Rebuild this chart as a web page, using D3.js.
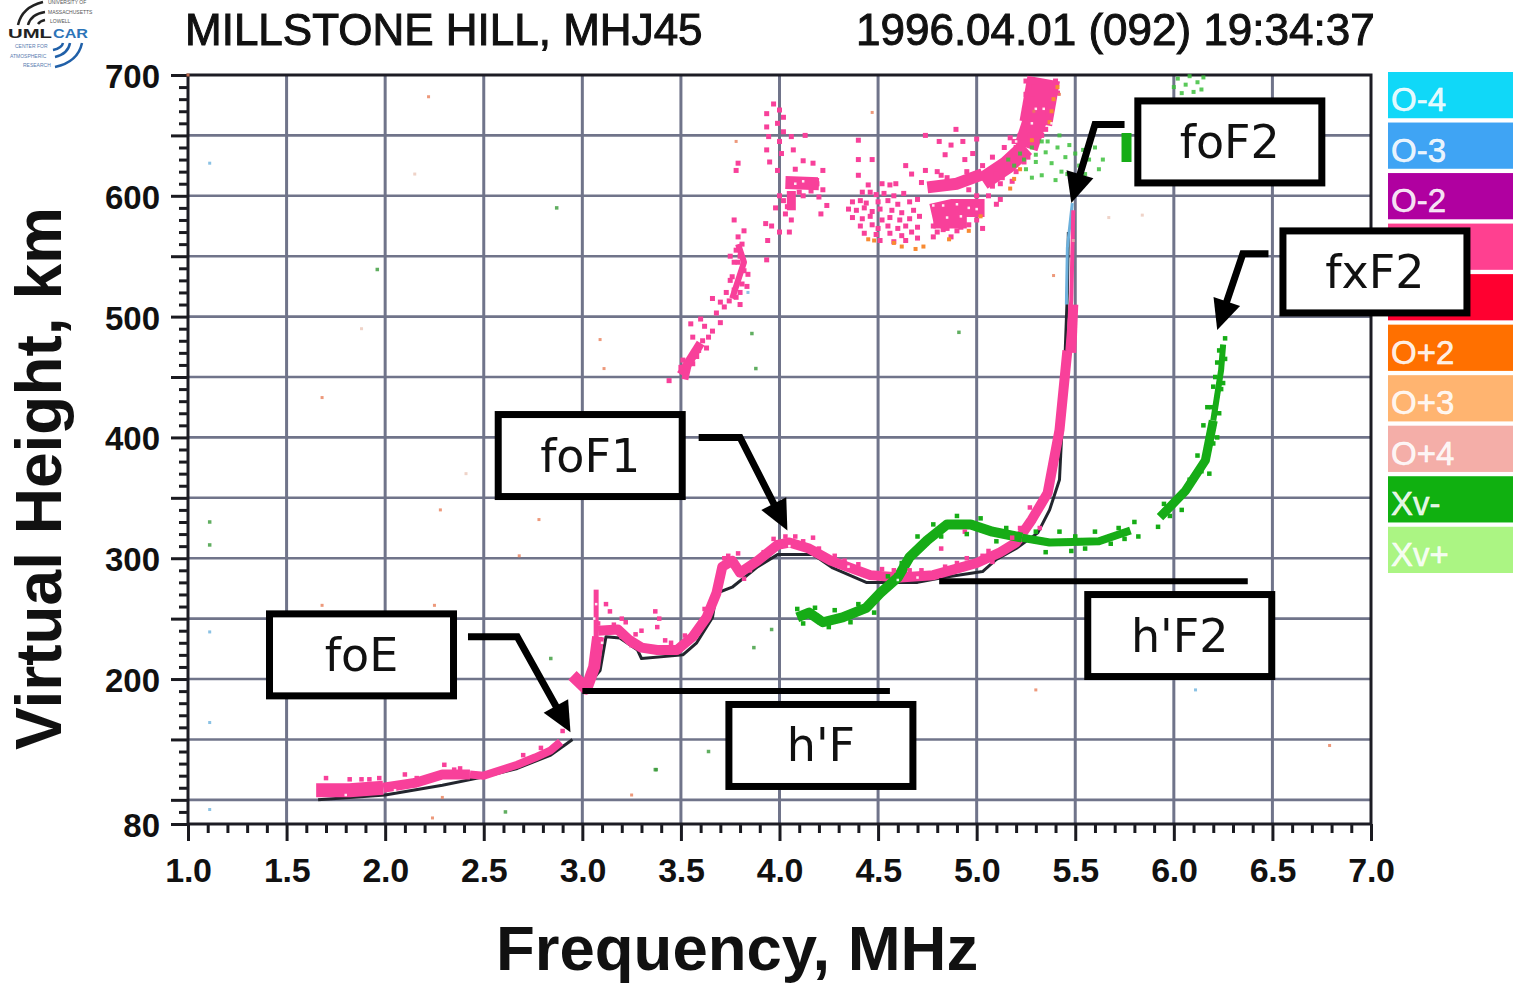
<!DOCTYPE html>
<html><head><meta charset="utf-8">
<script src="https://cdnjs.cloudflare.com/ajax/libs/d3/7.8.5/d3.min.js"></script>
<style>html,body{margin:0;padding:0;background:#fff}svg{display:block}text{font-family:"Liberation Sans",Arial,sans-serif}</style>
</head><body><svg id="c" width="1516" height="984"></svg>
<script>
const titleLeft="MILLSTONE HILL, MHJ45";
const titleRight="1996.04.01 (092) 19:34:37";
const xLabel="Frequency, MHz", yLabel="Virtual Height, km";
const xMajor=[1,1.5,2,2.5,3,3.5,4,4.5,5,5.5,6,6.5,7];
const xMinor=[1.1,1.2,1.3,1.4,1.6,1.7,1.8,1.9,2.1,2.2,2.3,2.4,2.6,2.7,2.8,2.9,3.1,3.2,3.3,3.4,3.6,3.7,3.8,3.9,4.1,4.2,4.3,4.4,4.6,4.7,4.8,4.9,5.1,5.2,5.3,5.4,5.6,5.7,5.8,5.9,6.1,6.2,6.3,6.4,6.6,6.7,6.8,6.9];
const yMajor=[80,100,150,200,250,300,350,400,450,500,550,600,650,700];
const yLabelled=[80,200,300,400,500,600,700];
const yMinor=[90,110,120,130,140,160,170,180,190,210,220,230,240,260,270,280,290,310,320,330,340,360,370,380,390,410,420,430,440,460,470,480,490,510,520,530,540,560,570,580,590,610,620,630,640,660,670,680,690];
const legendNames=["O-4","O-3","O-2","O-1","O+1","O+2","O+3","O+4","Xv-","Xv+"];
const legendHidden=["O-1","O+1"];
const legendColors=["#10d8f8","#3fa4f4","#b000a0","#ff4090","#ff0030","#ff7000","#ffb470","#f4aea8","#10b010","#abf583"];

const traceE1=[[1.65,108],[1.82,108],[1.99,110]];
const traceE2=[[1.99,110],[2.15,114],[2.29,121],[2.43,121]];
const traceE3=[[2.43,121],[2.5,120],[2.67,129],[2.76,135],[2.84,141],[2.89,148]];
const traceV=[[2.95,203],[3.02,192],[3.06,210],[3.08,235]];
const traceF=[[3.08,240],[3.18,241],[3.24,232],[3.3,226],[3.38,224],[3.48,224],[3.56,235],[3.63,251],[3.68,271],[3.71,293],[3.76,298],[3.8,288],[3.89,298],[3.99,311],[4.05,313],[4.15,308],[4.26,298],[4.36,292],[4.46,286],[4.61,284],[4.78,286],[5,296],[5.12,305],[5.2,313],[5.28,332],[5.36,354],[5.42,406],[5.46,472]];
const traceCusp=[[5.46,472],[5.48,514],[5.49,588]];
const cuspWide=[[5.48,470],[5.49,510]];
const cuspBlue=[[5.455,510],[5.46,557],[5.485,594]];
const spike=[[3.07,220],[3.07,274]];
const blackE=[[1.66,100],[2,104],[2.29,112],[2.5,119],[2.67,126],[2.84,137],[2.95,150]];
const blackF=[[3,191],[3.07,203],[3.09,207],[3.12,235],[3.19,234],[3.28,224],[3.3,217],[3.51,220],[3.58,230],[3.66,251],[3.68,271],[3.76,276],[3.89,293],[3.99,303],[4.17,303],[4.27,292],[4.44,280],[4.7,280],[4.83,284],[5.03,289],[5.1,299],[5.2,308],[5.31,321],[5.37,340],[5.42,365],[5.44,431],[5.46,520],[5.465,570]];
const traceX1=[[4.09,251],[4.15,255],[4.22,247],[4.32,251],[4.44,259],[4.51,271],[4.6,284],[4.66,301],[4.75,315],[4.85,328],[4.97,328],[5.08,322],[5.23,317]];
const traceX2=[[5.23,317],[5.37,313],[5.62,314],[5.78,323]];
const traceX3=[[5.93,334],[6.06,356],[6.16,381],[6.2,414]];
const traceX4=[[6.2,414],[6.24,456],[6.25,477]];
const highCoreThin=[[3.5,452],[3.6,478]];
const highCoreLow=[[3.52,448],[3.54,462]];
const highCoreOblique=[[3.76,515],[3.82,545],[3.79,560]];
const highCoreBlob=[[4.03,611],[4.2,610]];
const highCoreStem=[[4.06,588],[4.06,604]];
const highCoreBowl=[[4.77,586],[4.88,590],[5.04,590]];
const highCoreBowlLow=[[4.78,578],[4.95,578]];
const highCoreBand=[[4.75,607],[4.9,610],[5.03,618]];
const highCoreRise=[[5.03,612],[5.15,625],[5.25,640]];
const highCoreUp=[[5.25,640],[5.3,665]];
const highCoreTop=[[5.3,660],[5.34,697]];
const highPink=[[3.44,447],[3.5,458],[3.51,464],[3.52,453],[3.56,461],[3.58,467],[3.61,480],[3.64,483],[3.56,483],[3.55,494],[3.6,498],[3.66,515],[3.68,503],[3.745,513],[3.77,522],[3.81,527],[3.835,525],[3.76,533],[3.82,538],[3.78,555],[3.81,560],[3.82,571],[3.77,580],[3.93,577],[3.935,547],[3.78,621],[3.79,627],[3.72,508],[3.7,495],[3.75,530],[3.79,545],[3.79,566],[3.8,510],[3.78,516],[3.62,492],[3.59,472],[3.63,474],[3.66,488],[3.7,512],[3.73,520],[3.8,520],[3.84,535],[3.77,545],[3.75,550],[3.8,550],
[3.935,668],[4,671],[4.02,665],[3.935,657],[3.99,660],[3.945,649],[3.935,638],[4.01,635],[3.99,621],[3.97,676],[3.95,628],[4,645],[4.02,653],[4,600],[3.98,590],[4.02,596],[4.04,591],[4.03,585],[4.06,580],[3.96,575],[3.94,563],[4,570],[4.05,570],[4.19,610],[4.2,599],[4.22,621],[4.17,627],[4.12,629],[4.07,638],[4.06,649],[4.13,650],[4.12,600],[4.16,604],[4.08,622],[4.1,603],[4.24,592],[4.22,605],[4.21,585],
[4.4,646],[4.4,630],[4.47,630],[4.4,617],[4.45,609],[4.52,610],[4.56,609],[4.59,610],[4.42,603],[4.46,603],[4.49,601],[4.53,602],[4.58,600],[4.63,602],[4.37,595],[4.41,596],[4.44,594],[4.5,595],[4.55,596],[4.6,593],[4.66,595],[4.7,597],[4.35,589],[4.39,588],[4.43,590],[4.47,587],[4.51,589],[4.57,588],[4.62,586],[4.68,588],[4.37,582],[4.42,581],[4.46,583],[4.52,580],[4.56,582],[4.61,580],[4.66,581],[4.71,583],[4.41,575],[4.47,576],[4.5,573],[4.55,575],[4.6,573],[4.64,575],[4.7,574],[4.43,569],[4.49,568],[4.56,569],[4.62,567],[4.67,570],[4.51,563],[4.58,562],[4.64,563],[4.7,565],
[4.74,650],[4.895,655],[4.81,645],[4.87,642],[4.93,645],[5,647],[4.84,634],[4.94,630],[4.74,621],[4.67,618],[4.64,625],[4.98,635],[5.03,625],[5.08,632],[4.8,620],[4.82,617],[4.95,620],[4.72,611],[4.78,575],[4.83,572],[4.9,571],[4.87,566],[5.03,573],[5.1,593],[5.06,600],[5.12,597],[5.18,612],[5.14,640],[5.17,648],[5.22,650],[4.96,576],[5,580],[4.78,566],[4.8,570],[4.85,573],[4.92,574],[5,600],[5.08,608],[5.13,615],[4.96,605],[4.85,615],
[5.2,640],[5.22,630],[5.26,632],[5.3,645],[5.33,650],[5.35,655],[5.24,655],[5.27,662],[5.36,668],[5.38,675],[5.38,688],[5.28,680],[5.29,690],[5.25,695],[5.4,695],[5.1,618],[5.12,610],[5.2,620],[5.24,628],[5.16,632],[5.19,645],[5.23,648],[5.27,650],[5.26,672],[5.25,684],[5.41,685],[5.22,637]];
const highOrange=[[5.41,690],[5.39,680],[5.38,670],[5.37,661],[5.28,646],[5.22,622],[5.19,614],[5.17,606],[4.45,564],[4.48,563],[4.58,561],[4.62,558],[4.69,556],[4.73,558],[4.86,564],[4.96,571],[5.02,583]];
const highGreen=[[5.16,630],[5.19,625],[5.22,635],[5.25,622],[5.28,640],[5.3,628],[5.33,617],[5.35,636],[5.38,627],[5.36,645],[5.41,640],[5.43,620],[5.45,632],[5.47,642],[5.5,635],[5.52,625],[5.54,638],[5.57,630],[5.6,640],[5.62,622],[5.64,630],[5.28,615],[5.4,613],[5.42,650],[5.46,618],[5.55,618],[5.24,630],[6,690],[6.02,697],[6.04,685],[6.06,692],[6.08,699],[6.1,686],[6.12,694],[6.14,688],[6.15,698],[6.03,678],[6.09,678],[5.3,634],[5.33,645]];
const highGreenBlock=[[5.76,628],[5.76,652]];
const strayBlue=[[1.11,627],[1.11,239],[1.11,164],[1.11,92],[3.84,520],[6.11,191]];
const strayGreen=[[2.87,590],[1.96,539],[1.11,330],[1.11,311],[3.86,486],[3.88,457],[3.64,140],[3.37,125],[3.375,125],[2.61,90],[3.96,241],[3.87,226],[2.84,217],[4.91,487]];
const strayRed=[[2.22,682],[1.68,433],[2.28,340],[2.78,332],[2.68,302],[1.68,261],[2.25,261],[5.3,191],[6.79,145],[3.25,104],[2.29,102],[2.24,85],[3.09,481],[3.11,457],[5.42,684],[5.39,534],[5.29,670],[4.47,669],[3.78,645],[1,700]];
const strayPale=[[2.15,618],[1.88,490],[2.41,370],[5.67,582],[5.49,563],[5.84,584]];
const fragments=[[3.12,262],[3.14,256],[3.2,250],[3.22,247],[3.16,245],[3.3,240],[3.37,256],[3.39,250],[3.38,243],[3.42,232],[3.52,236],[3.79,304],[2.9,157],[2.1,121],[2.16,118],[1.7,118],[1.82,117],[1.88,117],[1.92,117],[1.97,118],[2.3,129],[2.35,125],[2.38,126],[2.7,137],[2.79,143],[4.17,317],[4.82,308],[4.94,322],[5.06,306],[5.15,307],[5.32,325],[3.05,205],[3.08,246],[3.09,233],
[3.2,235],[3.25,228],[3.27,237],[3.33,226],[3.45,230],[3.62,258],[3.66,262],[3.7,285],[3.72,300],[3.74,302],[3.78,295],[3.82,283],[3.85,290],[3.92,305],[3.97,316],[4.03,318],[4.08,318],[4.12,314],[4.2,308],[4.28,302],[4.33,298],[4.4,295],[4.52,291],[4.58,290],[4.66,290],[4.72,290],[4.84,293],[4.9,296],[4.95,300],[5.03,302],[5.08,297],[5.18,317],[5.22,325],[5.27,342],[5.33,345],[5.38,365],[5.41,390],[5.44,420],[5.45,445]];
const greenFragments=[[4.09,258],[4.12,246],[4.18,259],[4.25,243],[4.28,257],[4.36,247],[4.4,262],[4.48,255],[4.55,285],[4.62,296],[4.7,318],[4.78,328],[4.82,318],[4.9,335],[4.95,320],[5.02,333],[5.1,314],[5.15,325],[5.3,322],[5.35,305],[5.42,322],[5.48,306],[5.5,318],[5.55,308],[5.6,322],[5.68,312],[5.72,325],[5.75,316],[5.8,330],[5.82,318],
[6.14,372],[6.18,370],[6.12,385],[6.17,395],[6.22,400],[6.15,410],[6.2,395],[6.19,425],[6.23,420],[6.17,425],[6.22,435],[6.2,442],[6.24,440],[6.21,450],[6.25,445],[6.22,462],[6.26,465],[6.23,472],[6.26,482],[6.1,365],[6.02,350],[6.04,340],[5.98,335],[5.92,326],[5.95,345],[6.08,365]];
const whiteFlecks=[[4.78,592],[4.83,592],[4.9,593],[4.96,590],[5,589],[4.85,582],[4.92,583],[5.2,645],[5.3,672],[5.34,672],[5.28,660],[5.38,660],[4.08,610],[4.12,612],[3.1,230],[3.06,250],[3.07,262],[3.75,290],[4.05,310],[4.35,293],[4.6,282],[4.7,284],[1.8,104],[2.05,108]];
const annotations=[
 {label:"foF2",f:6.284,h:644.6,line:[[5.75,659],[5.6,659],[5.48,594]]},
 {label:"fxF2",f:7.02,h:537,line:[[6.48,552],[6.35,552],[6.22,489]]},
 {label:"foF1",f:3.04,h:385,line:[[3.59,400],[3.8,400],[4.04,323]]},
 {label:"foE",f:1.88,h:220,line:[[2.42,235],[2.67,235],[2.94,156]]},
 {label:"h'F",f:4.21,h:145,line:null},
 {label:"h'F2",f:6.03,h:236,line:null}];
const heightLines=[[[3,190],[4.56,190]],[[4.81,281],[6.375,281]]];

const svg=d3.select("#c");
const x=d3.scaleLinear().domain([1,7]).range([188,1371]);
const y=d3.scaleLinear().domain([80,700]).range([824,75]);
const line=d3.line().x(d=>x(d[0])).y(d=>y(d[1]));
const gridColor="#70748a";

const grid=svg.append("g");
grid.selectAll("line.v").data(xMajor.slice(1,-1)).join("line").attr("x1",x).attr("x2",x).attr("y1",y(700)).attr("y2",y(80)).attr("stroke",gridColor).attr("stroke-width",3);
grid.selectAll("line.h").data(yMajor.slice(1,-1)).join("line").attr("x1",x(1)).attr("x2",x(7)).attr("y1",y).attr("y2",y).attr("stroke",gridColor).attr("stroke-width",2.6);

function style(g,w){g.select(".domain").remove();g.selectAll("line").attr("stroke","#1a1a20").attr("stroke-width",w);}
svg.append("g").attr("transform",`translate(0,${y(80)})`).call(d3.axisBottom(x).tickValues(xMinor).tickSize(9).tickFormat("")).call(g=>style(g,3));
svg.append("g").attr("transform",`translate(${x(1)},0)`).call(d3.axisLeft(y).tickValues(yMinor).tickSize(9).tickFormat("")).call(g=>style(g,3));
const axB=svg.append("g").attr("transform",`translate(0,${y(80)})`).call(d3.axisBottom(x).tickValues(xMajor).tickSize(17).tickPadding(17).tickFormat(d3.format(".1f"))).call(g=>style(g,3));
axB.selectAll("text").attr("font-size",34).attr("font-weight",700).attr("fill","#111").attr("font-family",'"Liberation Sans"').attr("letter-spacing",-0.3);
const axL=svg.append("g").attr("transform",`translate(${x(1)},0)`).call(d3.axisLeft(y).tickValues(yMajor).tickSize(17).tickPadding(11).tickFormat(d=>yLabelled.includes(d)?d:"")).call(g=>style(g,3));
axL.selectAll("text").attr("font-size",33).attr("font-weight",700).attr("fill","#111").attr("font-family",'"Liberation Sans"').attr("transform","translate(0,2)");
svg.append("rect").attr("x",x(1)).attr("y",y(700)).attr("width",x(7)-x(1)).attr("height",y(80)-y(700)).attr("fill","none").attr("stroke","#1c1c24").attr("stroke-width",3);

const plot=svg.append("g").attr("filter","url(#soft)");
const defs=svg.append("defs");
defs.append("filter").attr("id","soft").attr("x","-5%").attr("y","-5%").attr("width","110%").attr("height","110%").append("feGaussianBlur").attr("stdDeviation",0.55);
const pink="#f8409a", green="#14ac14";
function path(d,c,w){plot.append("path").datum(d).attr("d",line).attr("fill","none").attr("stroke",c).attr("stroke-width",w).attr("stroke-linejoin","round");}
function dots(d,c,s,o){plot.append("g").selectAll("rect").data(d).join("rect").attr("x",p=>x(p[0])-s/2).attr("y",p=>y(p[1])-s/2).attr("width",s).attr("height",s).attr("fill",c).attr("opacity",o||1);}
path(blackE,"#23262e",3);path(blackF,"#23262e",3);path(cuspBlue,"#6cb0dc",3);
path(traceE1,pink,14);path(traceE2,pink,10);path(traceE3,pink,8);path(traceV,pink,12);path(traceF,pink,10);path(traceCusp,pink,4);path(cuspWide,pink,10);path(spike,pink,5);
path(traceX1,green,10);path(traceX2,green,8);path(traceX3,green,9);path(traceX4,green,6);
path(highCoreThin,pink,9);path(highCoreLow,pink,7);path(highCoreOblique,pink,6);path(highCoreBlob,pink,13);path(highCoreStem,pink,9);
path(highCoreBowl,pink,18);path(highCoreBowlLow,pink,12);path(highCoreBand,pink,12);path(highCoreRise,pink,18);path(highCoreUp,pink,24);path(highCoreTop,pink,33);
path(highGreenBlock,green,10);
dots(highPink,pink,5);dots(highOrange,"#f88a30",4);dots(highGreen,"#3cc03c",4,.85);dots(fragments,pink,4.5);dots(greenFragments,green,4.5);dots(whiteFlecks,"#fff",2.5,.9);
dots(strayBlue,"#5aa8d8",3,.7);dots(strayGreen,"#3a9a3a",3.5,.8);dots(strayRed,"#e8805a",3,.8);dots(strayPale,"#e8c0b0",3,.7);

const band=d3.scaleBand().domain(legendNames).range([72,573]).paddingInner(0.085).paddingOuter(0);
const lg=svg.append("g").selectAll("g").data(legendNames).join("g").attr("transform",d=>`translate(1388,${band(d)})`);
lg.append("rect").attr("width",125).attr("height",band.bandwidth()).attr("fill",(d,i)=>legendColors[i]);
lg.filter(d=>!legendHidden.includes(d)).append("text").text(d=>d).attr("x",3).attr("y",band.bandwidth()/2+16).attr("font-size",33).attr("fill","#fff").attr("stroke","#fff").attr("stroke-width",.5).attr("fill-opacity",.9);

const ann=svg.append("g");
heightLines.forEach(l=>ann.append("path").datum(l).attr("d",line).attr("stroke","#000").attr("stroke-width",6).attr("fill","none"));
annotations.forEach(a=>{
  if(a.line){
    const n=a.line.length,tip=a.line[n-1],prev=a.line[n-2];
    const tx=x(tip[0]),ty=y(tip[1]),ang=Math.atan2(ty-y(prev[1]),tx-x(prev[0]));
    const bx=tx-20*Math.cos(ang),by=ty-20*Math.sin(ang);
    ann.append("path").attr("d",line(a.line.slice(0,n-1))+`L${bx},${by}`).attr("fill","none").attr("stroke","#000").attr("stroke-width",7);
    const nx=-Math.sin(ang),ny=Math.cos(ang);
    ann.append("path").attr("d",`M${tx},${ty}L${tx-30*Math.cos(ang)+14*nx},${ty-30*Math.sin(ang)+14*ny}L${tx-30*Math.cos(ang)-14*nx},${ty-30*Math.sin(ang)-14*ny}Z`).attr("fill","#000");
  }
  ann.append("rect").attr("x",x(a.f)-92).attr("y",y(a.h)-41).attr("width",184).attr("height",82).attr("fill","#fff").attr("stroke","#000").attr("stroke-width",7);
  ann.append("text").text(a.label).attr("x",x(a.f)).attr("y",y(a.h)+16).attr("text-anchor","middle").attr("font-size",46).attr("fill","#111").style("font-family",'"DejaVu Sans"');
});

svg.append("text").text(titleLeft).attr("x",185).attr("y",45).attr("font-size",44).attr("fill","#111").attr("stroke","#111").attr("stroke-width",1);
svg.append("text").text(titleRight).attr("x",856).attr("y",45).attr("font-size",44).attr("fill","#111").attr("stroke","#111").attr("stroke-width",1);
svg.append("text").text(xLabel).attr("x",496).attr("y",970).attr("font-size",63.5).attr("font-weight",700).attr("fill","#111");
svg.append("text").text(yLabel).attr("transform","translate(61,750) rotate(-90)").attr("font-size",64).attr("font-weight",700).attr("fill","#111");

const logo=svg.append("g");
const arcs=[["M18,25Q22,7 43,2","#222"],["M28,25Q31,14 45,12","#222"],["M38,24Q40,21 45,20","#222"],["M82,43Q78,62 55,67","#2060a8"],["M70,43Q68,54 55,57","#2060a8"],["M63,43Q62,48 53,50","#2060a8"]];
logo.selectAll("path").data(arcs).join("path").attr("d",d=>d[0]).attr("fill","none").attr("stroke",d=>d[1]).attr("stroke-width",2.5);
[["UNIVERSITY OF",48,4],["MASSACHUSETTS",48,14],["LOWELL",50,23]].forEach(t=>logo.append("text").text(t[0]).attr("x",t[1]).attr("y",t[2]).attr("font-size",5).attr("fill","#555"));
[["CENTER FOR",15,48],["ATMOSPHERIC",10,58],["RESEARCH",23,67]].forEach(t=>logo.append("text").text(t[0]).attr("x",t[1]).attr("y",t[2]).attr("font-size",5).attr("fill","#5a7cb0"));
logo.append("text").text("UML").attr("x",8).attr("y",38).attr("font-size",12).attr("font-weight",700).attr("fill","#222").attr("textLength",44).attr("lengthAdjust","spacingAndGlyphs");
logo.append("text").text("CAR").attr("x",53).attr("y",38).attr("font-size",12).attr("font-weight",700).attr("fill","#2c74b8").attr("textLength",35).attr("lengthAdjust","spacingAndGlyphs");
</script></body></html>
